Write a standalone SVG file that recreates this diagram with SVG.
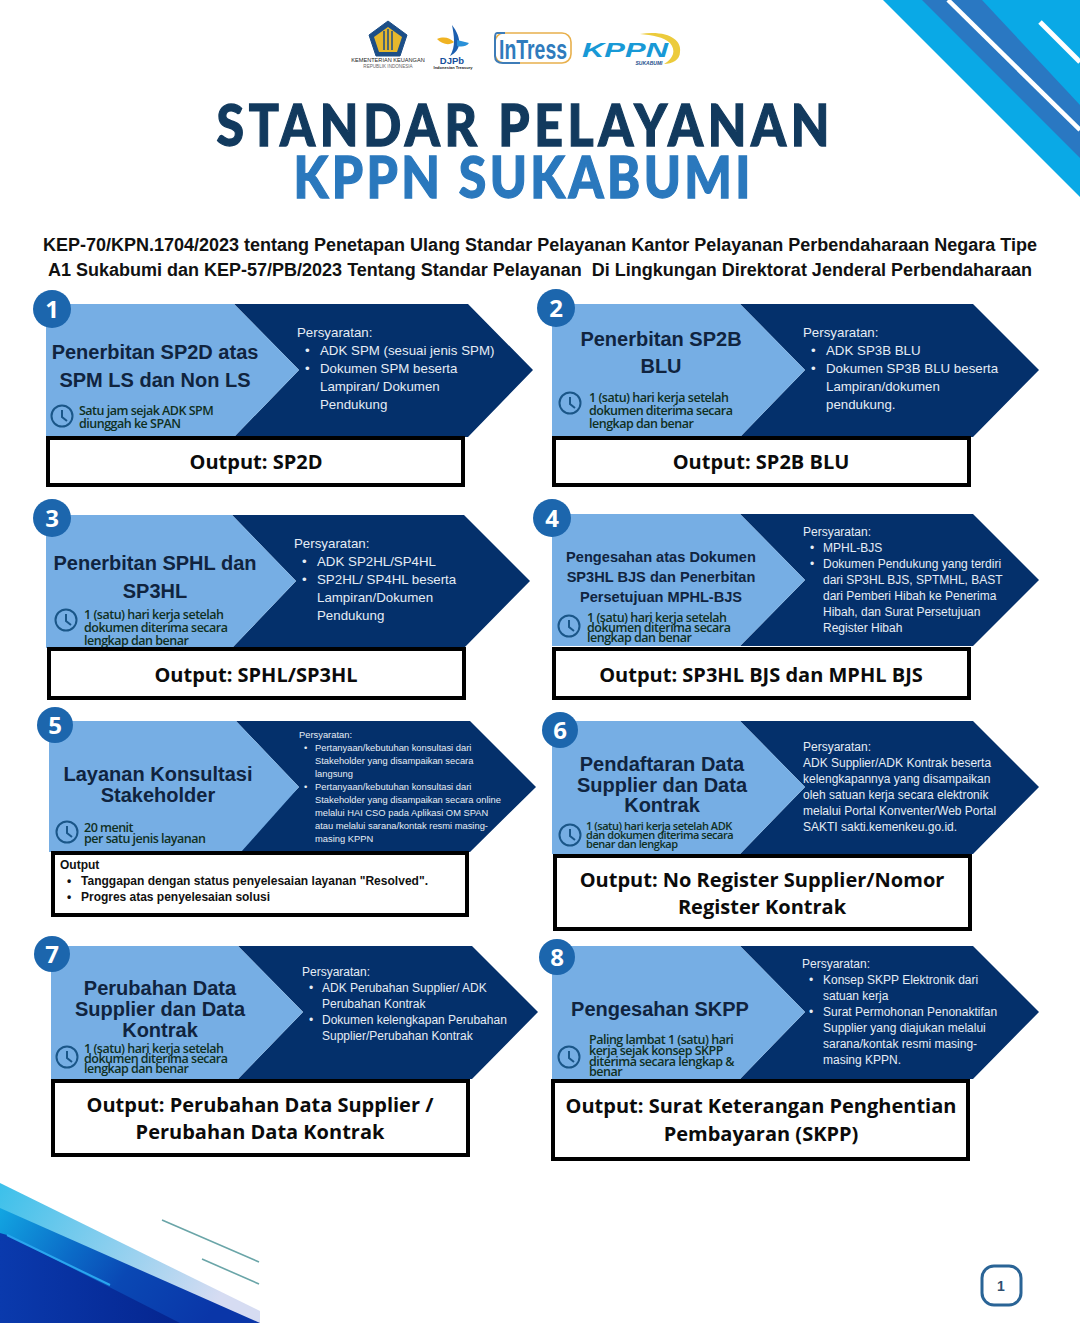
<svg xmlns="http://www.w3.org/2000/svg" width="1080" height="1323" viewBox="0 0 1080 1323">
<style>
text{font-family:"Liberation Sans",Arial,sans-serif}
.l{fill:#76aee4}.d{fill:#04306b}
.n{fill:#1c66ad}
.num{font-size:24px;font-weight:700;fill:#fff;text-anchor:middle;font-family:"Open Sans",sans-serif}
.ti{font-size:20px;font-weight:700;fill:#10243f;text-anchor:middle}
.ts{font-size:14.6px}
.req{font-size:13.3px;fill:#e6edf5}
.req2{font-size:12px;fill:#e6edf5}
.req3{font-size:9.35px;fill:#e6edf5}
.tm{font-family:"Open Sans",sans-serif;font-size:12.5px;font-weight:600;fill:#10301f;letter-spacing:-.5px}
.tx{font-size:11px;letter-spacing:-.45px}
.box{fill:#fff;stroke:#000;stroke-width:4}
.out{font-family:"Open Sans",sans-serif;font-size:20px;font-weight:700;fill:#0b0b0b;text-anchor:middle}
.clk{fill:none;stroke:#1a5688;stroke-width:2}
.head{font-size:18px;font-weight:700;fill:#111;text-anchor:middle;white-space:pre}
.title{font-family:Lato,"Open Sans",sans-serif;font-size:50px;font-weight:900;text-anchor:middle;stroke-width:1.1px}
</style>
<defs>
<linearGradient id="g1" x1="0" y1="0" x2="1" y2="0.3"><stop offset="0" stop-color="#3cc0ea"/><stop offset="1" stop-color="#d6dcf2"/></linearGradient>
<linearGradient id="g2" x1="0" y1="0" x2="1" y2="0.3"><stop offset="0" stop-color="#12a6e2"/><stop offset=".35" stop-color="#0b6cc8"/><stop offset=".6" stop-color="#0a48b4"/><stop offset="1" stop-color="#0a36a8"/></linearGradient>
<linearGradient id="g3" x1="0" y1="0" x2="1" y2="0"><stop offset="0" stop-color="#0a3aad"/><stop offset="1" stop-color="#05258f"/></linearGradient>
<g id="clock"><circle class="clk" r="10.5"/><path class="clk" d="M0-6V1L5 5"/></g>
</defs>

<g id="decor-top">
<polygon points="883,0 1080,197 1080,0" fill="#0aa9e6"/>
<polygon points="922,0 982,0 1080,105 1080,158" fill="#2a78c2"/>
<line x1="948" y1="0" x2="1080" y2="130" stroke="#fff" stroke-width="4.5"/>
<line x1="1040" y1="22" x2="1080" y2="62" stroke="#fff" stroke-width="5"/>
</g>
<g id="decor-bottom">
<polygon points="0,1183 260,1311 260,1323 0,1323" fill="url(#g1)"/>
<polygon points="0,1208 260,1323 0,1323" fill="url(#g2)"/>
<polygon points="0,1233 7,1235 180,1323 0,1323" fill="url(#g3)"/>
<line x1="7" y1="1235" x2="110" y2="1285" stroke="#2aa6ee" stroke-width="2"/>
<line x1="162" y1="1220" x2="259" y2="1262" stroke="#6aa5a8" stroke-width="1.6"/>
<line x1="202" y1="1259" x2="259" y2="1284" stroke="#6aa5a8" stroke-width="1.6"/>
</g>

<g id="logos">
<path d="M388 21L407 35 400 56H376L369 35Z" fill="#1c4e87" stroke="#1c4e87" stroke-width="1"/>
<path d="M388 27L402 37 397 52H379L374 37Z" fill="#e5b72c"/>
<path d="M384 31V50M388 29V50M392 31V50" stroke="#1c4e87" stroke-width="1.5"/>
<text x="388" y="62" font-size="5.6" text-anchor="middle" fill="#222">KEMENTERIAN KEUANGAN</text>
<text x="388" y="68" font-size="4.6" text-anchor="middle" fill="#666">REPUBLIK INDONESIA</text>
<path d="M452 25C462 38 462 50 450 56C456 46 454 36 452 25Z" fill="#1c5fb0"/>
<path d="M437 39C444 36 450 38 454 42C449 46 442 44 437 39Z" fill="#f0b323"/>
<path d="M457 40L469 43C466 47 461 47 457 46Z" fill="#2a90d8"/>
<text x="452" y="64" font-size="9.5" font-weight="700" text-anchor="middle" fill="#164f9c">DJPb</text>
<text x="453" y="69" font-size="4" font-weight="700" text-anchor="middle" fill="#222">Indonesian Treasury</text>
<rect x="495" y="33" width="76" height="30" rx="9" fill="#fff" stroke="#e8b04c" stroke-width="1.6"/>
<path d="M505 33H497Q495 33 495 38V56Q495 63 503 63H520" fill="none" stroke="#3d7cb8" stroke-width="2"/>
<text x="533" y="59" font-size="27" font-weight="600" text-anchor="middle" fill="#2f7bbd" textLength="68" lengthAdjust="spacingAndGlyphs" font-family="Open Sans">InTress</text>
<path d="M640 34C668 30 682 40 680 52C680 60 672 64 664 64C674 58 676 50 670 43C664 37 652 35 640 34Z" fill="#eccb3c"/>
<text x="582" y="57" font-size="20" font-weight="700" font-style="italic" fill="#1899d6" textLength="86" lengthAdjust="spacingAndGlyphs">KPPN</text>
<text x="649" y="65" font-size="5" font-weight="700" font-style="italic" text-anchor="middle" fill="#1a4e8c">SUKABUMI</text>
</g>

<g id="title">
<text class="title" transform="translate(523,146) scale(1,1.16)" fill="#123a5e" stroke="#123a5e" textLength="613" lengthAdjust="spacing">STANDAR PELAYANAN</text>
<text class="title" transform="translate(522,198) scale(1,1.16)" fill="#2a78bd" stroke="#2a78bd" textLength="457" lengthAdjust="spacing">KPPN SUKABUMI</text>
</g>
<g id="subtitle">
<text class="head" x="540" y="251">KEP-70/KPN.1704/2023 tentang Penetapan Ulang Standar Pelayanan Kantor Pelayanan Perbendaharaan Negara Tipe</text>
<text class="head" x="540" y="276">A1 Sukabumi dan KEP-57/PB/2023 Tentang Standar Pelayanan  Di Lingkungan Direktorat Jenderal Perbendaharaan</text>
</g>

<g id="node-1">
<polygon class="d" points="234,304 468,304 533,370 468,437 234,437 299,370"/>
<polygon class="l" points="46,304 234,304 299,370 234,437 46,437"/>
<circle class="n" cx="52" cy="309" r="19"/><text class="num" x="52" y="318">1</text>
<text class="ti" x="155" y="359">Penerbitan SP2D atas</text><text class="ti" x="155" y="387">SPM LS dan Non LS</text>
<use href="#clock" x="62" y="416"/>
<text class="tm" x="79" y="415">Satu jam sejak ADK SPM</text><text class="tm" x="79" y="428">diunggah ke SPAN</text>
<text class="req" x="297" y="337">Persyaratan:</text>
<text class="req" x="305" y="355">•</text><text class="req" x="320" y="355">ADK SPM (sesuai jenis SPM)</text>
<text class="req" x="305" y="373">•</text><text class="req" x="320" y="373">Dokumen SPM beserta</text>
<text class="req" x="320" y="391">Lampiran/ Dokumen</text><text class="req" x="320" y="409">Pendukung</text>
<rect class="box" x="48" y="438" width="415" height="47"/><text class="out" x="256" y="469">Output: SP2D</text>
</g>

<g id="node-2">
<polygon class="d" points="740,304 973,304 1039,370 973,437 740,437 805,370"/>
<polygon class="l" points="552,304 740,304 805,370 740,437 552,437"/>
<circle class="n" cx="556" cy="308" r="19"/><text class="num" x="556" y="317">2</text>
<text class="ti" x="661" y="346">Penerbitan SP2B</text><text class="ti" x="661" y="373">BLU</text>
<use href="#clock" x="570" y="403"/>
<text class="tm" x="589" y="402">1 (satu) hari kerja setelah</text><text class="tm" x="589" y="415">dokumen diterima secara</text><text class="tm" x="589" y="428">lengkap dan benar</text>
<text class="req" x="803" y="337">Persyaratan:</text>
<text class="req" x="811" y="355">•</text><text class="req" x="826" y="355">ADK SP3B BLU</text>
<text class="req" x="811" y="373">•</text><text class="req" x="826" y="373">Dokumen SP3B BLU beserta</text>
<text class="req" x="826" y="391">Lampiran/dokumen</text><text class="req" x="826" y="409">pendukung.</text>
<rect class="box" x="554" y="438" width="415" height="47"/><text class="out" x="761" y="469">Output: SP2B BLU</text>
</g>

<g id="node-3">
<polygon class="d" points="232,515 464,515 530,581 464,648 232,648 296,581"/>
<polygon class="l" points="46,515 232,515 296,581 232,648 46,648"/>
<circle class="n" cx="52" cy="518" r="19"/><text class="num" x="52" y="527">3</text>
<text class="ti" x="155" y="570">Penerbitan SPHL dan</text><text class="ti" x="155" y="598">SP3HL</text>
<use href="#clock" x="66" y="620"/>
<text class="tm" x="84" y="619">1 (satu) hari kerja setelah</text><text class="tm" x="84" y="632">dokumen diterima secara</text><text class="tm" x="84" y="645">lengkap dan benar</text>
<text class="req" x="294" y="548">Persyaratan:</text>
<text class="req" x="302" y="566">•</text><text class="req" x="317" y="566">ADK SP2HL/SP4HL</text>
<text class="req" x="302" y="584">•</text><text class="req" x="317" y="584">SP2HL/ SP4HL beserta</text>
<text class="req" x="317" y="602">Lampiran/Dokumen</text><text class="req" x="317" y="620">Pendukung</text>
<rect class="box" x="49" y="649" width="415" height="49"/><text class="out" x="256" y="682">Output: SPHL/SP3HL</text>
</g>

<g id="node-4">
<polygon class="d" points="740,514 973,514 1039,580 973,646 740,646 805,580"/>
<polygon class="l" points="552,514 740,514 805,580 740,646 552,646"/>
<circle class="n" cx="552" cy="518" r="19"/><text class="num" x="552" y="527">4</text>
<text class="ti ts" x="661" y="562">Pengesahan atas Dokumen</text><text class="ti ts" x="661" y="582">SP3HL BJS dan Penerbitan</text><text class="ti ts" x="661" y="602">Persetujuan MPHL-BJS</text>
<use href="#clock" x="569" y="626"/>
<text class="tm" x="587" y="622">1 (satu) hari kerja setelah</text><text class="tm" x="587" y="632">dokumen diterima secara</text><text class="tm" x="587" y="642">lengkap dan benar</text>
<text class="req2" x="803" y="536">Persyaratan:</text>
<text class="req2" x="810" y="552">•</text><text class="req2" x="823" y="552">MPHL-BJS</text>
<text class="req2" x="810" y="568">•</text><text class="req2" x="823" y="568">Dokumen Pendukung yang terdiri</text>
<text class="req2" x="823" y="584">dari SP3HL BJS, SPTMHL, BAST</text>
<text class="req2" x="823" y="600">dari Pemberi Hibah ke Penerima</text>
<text class="req2" x="823" y="616">Hibah, dan Surat Persetujuan</text>
<text class="req2" x="823" y="632">Register Hibah</text>
<rect class="box" x="554" y="649" width="415" height="49"/><text class="out" x="761" y="682">Output: SP3HL BJS dan MPHL BJS</text>
</g>

<g id="node-5">
<polygon class="d" points="236,721 470,721 536,787 470,852 236,852 299,787"/>
<polygon class="l" points="49,721 236,721 299,787 241,852 49,852"/>
<circle class="n" cx="55" cy="725" r="18"/><text class="num" x="55" y="734">5</text>
<text class="ti" x="158" y="781">Layanan Konsultasi</text><text class="ti" x="158" y="802">Stakeholder</text>
<use href="#clock" x="67" y="832"/>
<text class="tm" x="84" y="832">20 menit</text><text class="tm" x="84" y="843">per satu jenis layanan</text>
<text class="req3" x="299" y="738">Persyaratan:</text>
<text class="req3" x="304" y="751">•</text><text class="req3" x="315" y="751">Pertanyaan/kebutuhan konsultasi dari</text>
<text class="req3" x="315" y="764">Stakeholder yang disampaikan secara</text>
<text class="req3" x="315" y="777">langsung</text>
<text class="req3" x="304" y="790">•</text><text class="req3" x="315" y="790">Pertanyaan/kebutuhan konsultasi dari</text>
<text class="req3" x="315" y="803">Stakeholder yang disampaikan secara online</text>
<text class="req3" x="315" y="816">melalui HAI CSO pada Aplikasi OM SPAN</text>
<text class="req3" x="315" y="829">atau melalui sarana/kontak resmi masing-</text>
<text class="req3" x="315" y="842">masing KPPN</text>
<rect class="box" x="53" y="853" width="414" height="62"/>
<text x="60" y="869" font-size="12" font-weight="700" fill="#111">Output</text>
<text x="67" y="885" font-size="12" font-weight="700" fill="#111">•</text><text x="81" y="885" font-size="12" font-weight="700" fill="#111" textLength="347">Tanggapan dengan status penyelesaian layanan "Resolved".</text>
<text x="67" y="901" font-size="12" font-weight="700" fill="#111">•</text><text x="81" y="901" font-size="12" font-weight="700" fill="#111" textLength="189">Progres atas penyelesaian solusi</text>
</g>

<g id="node-6">
<polygon class="d" points="740,721 973,721 1039,787 973,854 740,854 805,787"/>
<polygon class="l" points="552,721 740,721 805,787 740,854 552,854"/>
<circle class="n" cx="560" cy="730" r="18"/><text class="num" x="560" y="739">6</text>
<text class="ti" x="662" y="771">Pendaftaran Data</text><text class="ti" x="662" y="792">Supplier dan Data</text><text class="ti" x="662" y="812">Kontrak</text>
<use href="#clock" x="570" y="835"/>
<text class="tm tx" x="586" y="830">1 (satu) hari kerja setelah ADK</text><text class="tm tx" x="586" y="839">dan dokumen diterima secara</text><text class="tm tx" x="586" y="848">benar dan lengkap</text>
<text class="req2" x="803" y="751">Persyaratan:</text>
<text class="req2" x="803" y="767">ADK Supplier/ADK Kontrak beserta</text>
<text class="req2" x="803" y="783">kelengkapannya yang disampaikan</text>
<text class="req2" x="803" y="799">oleh satuan kerja secara elektronik</text>
<text class="req2" x="803" y="815">melalui Portal Konventer/Web Portal</text>
<text class="req2" x="803" y="831">SAKTI sakti.kemenkeu.go.id.</text>
<rect class="box" x="555" y="856" width="415" height="73"/>
<text class="out" x="762" y="887">Output: No Register Supplier/Nomor</text><text class="out" x="762" y="914">Register Kontrak</text>
</g>

<g id="node-7">
<polygon class="d" points="238,946 472,946 538,1012 472,1079 238,1079 303,1012"/>
<polygon class="l" points="51,946 238,946 303,1012 238,1079 51,1079"/>
<circle class="n" cx="52" cy="954" r="18"/><text class="num" x="52" y="963">7</text>
<text class="ti" x="160" y="995">Perubahan Data</text><text class="ti" x="160" y="1016">Supplier dan Data</text><text class="ti" x="160" y="1037">Kontrak</text>
<use href="#clock" x="67" y="1057"/>
<text class="tm" x="84" y="1053">1 (satu) hari kerja setelah</text><text class="tm" x="84" y="1063">dokumen diterima secara</text><text class="tm" x="84" y="1073">lengkap dan benar</text>
<text class="req2" x="302" y="976">Persyaratan:</text>
<text class="req2" x="309" y="992">•</text><text class="req2" x="322" y="992">ADK Perubahan Supplier/ ADK</text>
<text class="req2" x="322" y="1008">Perubahan Kontrak</text>
<text class="req2" x="309" y="1024">•</text><text class="req2" x="322" y="1024">Dokumen kelengkapan Perubahan</text>
<text class="req2" x="322" y="1040">Supplier/Perubahan Kontrak</text>
<rect class="box" x="53" y="1081" width="415" height="74"/>
<text class="out" x="260" y="1112">Output: Perubahan Data Supplier /</text><text class="out" x="260" y="1139">Perubahan Data Kontrak</text>
</g>

<g id="node-8">
<polygon class="d" points="740,946 973,946 1039,1012 973,1079 740,1079 805,1012"/>
<polygon class="l" points="552,946 740,946 805,1012 740,1079 552,1079"/>
<circle class="n" cx="557" cy="957" r="18"/><text class="num" x="557" y="966">8</text>
<text class="ti" x="660" y="1016">Pengesahan SKPP</text>
<use href="#clock" x="569" y="1057"/>
<text class="tm" x="589" y="1044">Paling lambat 1 (satu) hari</text><text class="tm" x="589" y="1055">kerja sejak konsep SKPP</text><text class="tm" x="589" y="1066">diterima secara lengkap &amp;</text><text class="tm" x="589" y="1076">benar</text>
<text class="req2" x="802" y="968">Persyaratan:</text>
<text class="req2" x="809" y="984">•</text><text class="req2" x="823" y="984">Konsep SKPP Elektronik dari</text>
<text class="req2" x="823" y="1000">satuan kerja</text>
<text class="req2" x="809" y="1016">•</text><text class="req2" x="823" y="1016">Surat Permohonan Penonaktifan</text>
<text class="req2" x="823" y="1032">Supplier yang diajukan melalui</text>
<text class="req2" x="823" y="1048">sarana/kontak resmi masing-</text>
<text class="req2" x="823" y="1064">masing KPPN.</text>
<rect class="box" x="553" y="1081" width="415" height="78"/>
<text class="out" x="761" y="1113">Output: Surat Keterangan Penghentian</text><text class="out" x="761" y="1141">Pembayaran (SKPP)</text>
</g>

<g id="page-number">
<rect x="982" y="1266" width="39" height="39" rx="12" fill="#fff" stroke="#2a6496" stroke-width="3"/>
<text x="1001" y="1291" font-size="14" font-weight="700" text-anchor="middle" fill="#2f4f6f" font-family="Open Sans">1</text>
</g>
</svg>
